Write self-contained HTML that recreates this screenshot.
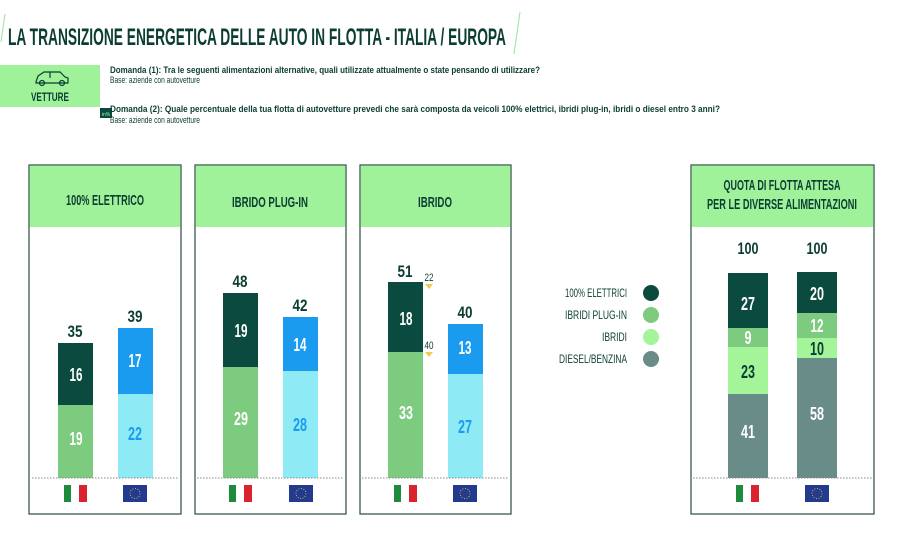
<!DOCTYPE html>
<html><head><meta charset="utf-8"><style>
body{margin:0;background:#fff}
svg{display:block}
text{font-family:"Liberation Sans Narrow","Liberation Sans",sans-serif}
</style></head><body>
<svg width="915" height="550" viewBox="0 0 915 550" xmlns="http://www.w3.org/2000/svg">
<line x1="5" y1="14" x2="1" y2="42" stroke="#9be59a" stroke-width="1"/>
<line x1="520" y1="12" x2="514" y2="54" stroke="#9be59a" stroke-width="1"/>
<text x="8" y="45" font-size="24" font-weight="bold" fill="#0b3d33" textLength="498" lengthAdjust="spacingAndGlyphs">LA TRANSIZIONE ENERGETICA DELLE AUTO IN FLOTTA - ITALIA / EUROPA</text>
<rect x="0" y="65" width="100" height="42" fill="#a0f29a"/>
<g stroke="#0b3d33" stroke-width="1.2" fill="none"><path d="M36 82 L38 76 L44 72 L60 72 L65 77 L68 78 L68 83 L36 83 Z"/><circle cx="42" cy="83" r="2.5"/><circle cx="62" cy="83" r="2.5"/><line x1="50" y1="72" x2="50" y2="78"/></g>
<text x="50" y="101" font-size="12" font-weight="bold" fill="#0b3d33" text-anchor="middle" textLength="38" lengthAdjust="spacingAndGlyphs">VETTURE</text>
<text x="110" y="73" font-size="9" font-weight="bold" fill="#0b3d33" textLength="430" lengthAdjust="spacingAndGlyphs">Domanda (1): Tra le seguenti alimentazioni alternative, quali utilizzate attualmente o state pensando di utilizzare?</text>
<text x="110" y="83" font-size="9" fill="#0b3d33" textLength="90" lengthAdjust="spacingAndGlyphs">Base: aziende con autovetture</text>
<rect x="100" y="108" width="12" height="10" fill="#0b4a3f"/>
<text x="106" y="116" font-size="5" fill="#a0f29a" text-anchor="middle">in%</text>
<text x="110" y="112" font-size="9" font-weight="bold" fill="#0b3d33" textLength="610" lengthAdjust="spacingAndGlyphs">Domanda (2): Quale percentuale della tua flotta di autovetture prevedi che sarà composta da veicoli 100% elettrici, ibridi plug-in, ibridi o diesel entro 3 anni?</text>
<text x="110" y="123" font-size="9" fill="#0b3d33" textLength="90" lengthAdjust="spacingAndGlyphs">Base: aziende con autovetture</text>

<defs>
<g id="it"><rect x="0" y="0" width="7" height="17" fill="#1e8a3e"/><rect x="7" y="0" width="8" height="17" fill="#fff"/><rect x="15" y="0" width="8" height="17" fill="#d9232e"/></g>
<g id="eu"><rect x="0" y="0" width="24" height="17" fill="#243a8f"/><circle cx="12" cy="8.5" r="5" fill="none" stroke="#e8d24a" stroke-width="0.8" stroke-dasharray="1 1.6"/></g>
</defs>

<g stroke="#2b4a42" stroke-width="1.2" fill="#fff">
<rect x="29" y="165" width="152" height="349"/>
<rect x="195" y="165" width="151" height="349"/>
<rect x="360" y="165" width="151" height="349"/>
<rect x="691" y="165" width="183" height="349"/>
</g>
<g fill="#a0f29a">
<rect x="29.6" y="165.6" width="150.8" height="61.4"/>
<rect x="195.6" y="165.6" width="149.8" height="61.4"/>
<rect x="360.6" y="165.6" width="149.8" height="61.4"/>
<rect x="691.6" y="165.6" width="181.8" height="61.4"/>
</g>
<g font-size="15" fill="#0b3d33" text-anchor="middle" font-weight="bold">
<text x="105" y="205" textLength="78" lengthAdjust="spacingAndGlyphs">100% ELETTRICO</text>
<text x="270" y="207" textLength="76" lengthAdjust="spacingAndGlyphs">IBRIDO PLUG-IN</text>
<text x="435" y="207" textLength="34" lengthAdjust="spacingAndGlyphs">IBRIDO</text>
<text x="782" y="190" textLength="117" lengthAdjust="spacingAndGlyphs">QUOTA DI FLOTTA ATTESA</text>
<text x="782" y="209" textLength="150" lengthAdjust="spacingAndGlyphs">PER LE DIVERSE ALIMENTAZIONI</text>
</g>

<rect x="58" y="343" width="35" height="62" fill="#0a4a3f"/>
<rect x="58" y="405" width="35" height="73" fill="#7ccb7f"/>
<rect x="118" y="328" width="35" height="66" fill="#1a9bf0"/>
<rect x="118" y="394" width="35" height="84" fill="#8eeaf4"/>
<rect x="223" y="293" width="35" height="74" fill="#0a4a3f"/>
<rect x="223" y="367" width="35" height="111" fill="#7ccb7f"/>
<rect x="283" y="317" width="35" height="54" fill="#1a9bf0"/>
<rect x="283" y="371" width="35" height="107" fill="#8eeaf4"/>
<rect x="388" y="282" width="35" height="70" fill="#0a4a3f"/>
<rect x="388" y="352" width="35" height="126" fill="#7ccb7f"/>
<rect x="448" y="324" width="35" height="50" fill="#1a9bf0"/>
<rect x="448" y="374" width="35" height="104" fill="#8eeaf4"/>
<rect x="728" y="273" width="40" height="55" fill="#0a4a3f"/>
<rect x="728" y="328" width="40" height="19" fill="#7ccb7f"/>
<rect x="728" y="347" width="40" height="47" fill="#a4f59a"/>
<rect x="728" y="394" width="40" height="84" fill="#6a8c89"/>
<rect x="797" y="272" width="40" height="41" fill="#0a4a3f"/>
<rect x="797" y="313" width="40" height="25" fill="#7ccb7f"/>
<rect x="797" y="338" width="40" height="20" fill="#a4f59a"/>
<rect x="797" y="358" width="40" height="120" fill="#6a8c89"/>

<g stroke="#888" stroke-width="1" stroke-dasharray="1.5 1.5">
<line x1="32" y1="478" x2="179" y2="478"/>
<line x1="197" y1="478" x2="344" y2="478"/>
<line x1="362" y1="478" x2="509" y2="478"/>
<line x1="693" y1="478" x2="872" y2="478"/>
</g>
<use href="#it" x="64" y="485"/><use href="#eu" x="123" y="485"/>
<use href="#it" x="229" y="485"/><use href="#eu" x="289" y="485"/>
<use href="#it" x="394" y="485"/><use href="#eu" x="453" y="485"/>
<use href="#it" x="736" y="485"/><use href="#eu" x="805" y="485"/>

<g font-size="18" font-weight="bold" text-anchor="middle" lengthAdjust="spacingAndGlyphs">
<g fill="#0b3d33" font-size="17">
<text x="75" y="337" textLength="15" lengthAdjust="spacingAndGlyphs">35</text><text x="135" y="322" textLength="15" lengthAdjust="spacingAndGlyphs">39</text>
<text x="240" y="287" textLength="15" lengthAdjust="spacingAndGlyphs">48</text><text x="300" y="311" textLength="15" lengthAdjust="spacingAndGlyphs">42</text>
<text x="405" y="277" textLength="15" lengthAdjust="spacingAndGlyphs">51</text><text x="465" y="318" textLength="15" lengthAdjust="spacingAndGlyphs">40</text>
<text x="748" y="254" textLength="21" lengthAdjust="spacingAndGlyphs">100</text><text x="817" y="254" textLength="21" lengthAdjust="spacingAndGlyphs">100</text>
</g>
<g fill="#0b3d33">
<text x="748" y="378" textLength="14" lengthAdjust="spacingAndGlyphs">23</text><text x="817" y="355" textLength="14" lengthAdjust="spacingAndGlyphs">10</text>
</g>
<g fill="#fff">
<text x="76" y="381" textLength="13" lengthAdjust="spacingAndGlyphs">16</text><text x="76" y="445" textLength="13" lengthAdjust="spacingAndGlyphs">19</text><text x="135" y="367" textLength="13" lengthAdjust="spacingAndGlyphs">17</text>
<text x="241" y="337" textLength="13" lengthAdjust="spacingAndGlyphs">19</text><text x="241" y="425" textLength="14" lengthAdjust="spacingAndGlyphs">29</text><text x="300" y="351" textLength="13" lengthAdjust="spacingAndGlyphs">14</text>
<text x="406" y="325" textLength="13" lengthAdjust="spacingAndGlyphs">18</text><text x="406" y="419" textLength="14" lengthAdjust="spacingAndGlyphs">33</text><text x="465" y="354" textLength="13" lengthAdjust="spacingAndGlyphs">13</text>
<text x="748" y="310" textLength="14" lengthAdjust="spacingAndGlyphs">27</text><text x="748" y="344" textLength="7" lengthAdjust="spacingAndGlyphs">9</text><text x="748" y="438" textLength="14" lengthAdjust="spacingAndGlyphs">41</text>
<text x="817" y="300" textLength="14" lengthAdjust="spacingAndGlyphs">20</text><text x="817" y="332" textLength="13" lengthAdjust="spacingAndGlyphs">12</text><text x="817" y="420" textLength="14" lengthAdjust="spacingAndGlyphs">58</text>
</g>
<g fill="#1a9bf0">
<text x="135" y="440" textLength="14" lengthAdjust="spacingAndGlyphs">22</text><text x="300" y="431" textLength="14" lengthAdjust="spacingAndGlyphs">28</text><text x="465" y="433" textLength="14" lengthAdjust="spacingAndGlyphs">27</text>
</g>
</g>
<g font-size="11" fill="#0b3d33" text-anchor="middle">
<text x="429" y="281" textLength="9" lengthAdjust="spacingAndGlyphs">22</text><text x="429" y="349" textLength="9" lengthAdjust="spacingAndGlyphs">40</text>
</g>
<g fill="#f2c94c"><path d="M425 284 L433 284 L429 289 Z"/><path d="M425 352 L433 352 L429 357 Z"/></g>

<g font-size="12" fill="#0b3d33" text-anchor="end">
<text x="627" y="297" textLength="62" lengthAdjust="spacingAndGlyphs">100% ELETTRICI</text>
<text x="627" y="319" textLength="62" lengthAdjust="spacingAndGlyphs">IBRIDI PLUG-IN</text>
<text x="627" y="341" textLength="25" lengthAdjust="spacingAndGlyphs">IBRIDI</text>
<text x="627" y="363" textLength="68" lengthAdjust="spacingAndGlyphs">DIESEL/BENZINA</text>
</g>
<circle cx="651" cy="293" r="8" fill="#0a4a3f"/>
<circle cx="651" cy="315" r="8" fill="#7ccb7f"/>
<circle cx="651" cy="337" r="8" fill="#a4f59a"/>
<circle cx="651" cy="359" r="8" fill="#6a8c89"/>
</svg>
</body></html>
